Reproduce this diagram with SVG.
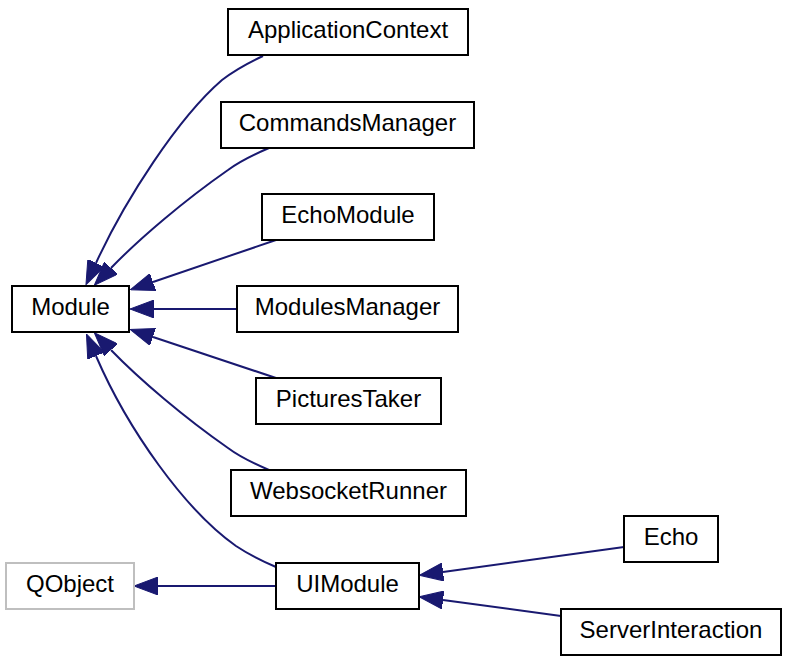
<svg xmlns="http://www.w3.org/2000/svg" width="792" height="660" viewBox="0 0 792 660">
<style>
.n rect{fill:#fff;stroke:#000;stroke-width:2}
.n.g rect{stroke:#bfbfbf}
.n text{font-family:"Liberation Sans",Arial,sans-serif;font-size:24px;text-anchor:middle;fill:#000}
.e path{fill:none;stroke:#191970;stroke-width:2;marker-end:url(#ah)}
</style>
<defs>
<marker id="ah" viewBox="0 0 24 18" markerUnits="userSpaceOnUse" markerWidth="24" markerHeight="18" refX="0" refY="9" orient="auto">
<path d="M0,0 L24,9 L0,18 z" fill="#191970" stroke="#191970" stroke-width="1"/>
</marker>
</defs>
<rect width="792" height="660" fill="#fff"/>
<g id="edges" class="e">
<path d="M263,56 C250,62 235,70 222,80 C178,118 125,200 96,263"/>
<path d="M269,148 C255,154 240,161 228,170 C185,200 140,238 111,268"/>
<path d="M276,240 L153,282"/>
<path d="M237,309 L154,309"/>
<path d="M276,378 L153,337"/>
<path d="M269,470 C255,464 240,457 228,448 C185,418 140,380 111,350"/>
<path d="M276,567 C262,561 248,554 236,546 C185,510 128,430 96,356"/>
<path d="M276,586 L158,586"/>
<path d="M624,547 L443,572"/>
<path d="M561,616 L443,600"/>
</g>
<g id="Module" class="n"><rect x="12" y="286" width="117" height="46"/><text x="70.5" y="315">Module</text></g>
<g id="ApplicationContext" class="n"><rect x="228" y="9" width="240" height="46"/><text x="348" y="38">ApplicationContext</text></g>
<g id="CommandsManager" class="n"><rect x="221" y="102" width="253" height="46"/><text x="347.5" y="131">CommandsManager</text></g>
<g id="EchoModule" class="n"><rect x="262" y="194" width="172" height="46"/><text x="348" y="223">EchoModule</text></g>
<g id="ModulesManager" class="n"><rect x="237" y="286" width="221" height="46"/><text x="347.5" y="315">ModulesManager</text></g>
<g id="PicturesTaker" class="n"><rect x="256" y="378" width="185" height="46"/><text x="348.5" y="407">PicturesTaker</text></g>
<g id="WebsocketRunner" class="n"><rect x="231" y="470" width="235" height="46"/><text x="348.5" y="499">WebsocketRunner</text></g>
<g id="QObject" class="n g"><rect x="6" y="563" width="128" height="46"/><text x="70" y="592">QObject</text></g>
<g id="UIModule" class="n"><rect x="276" y="563" width="143" height="46"/><text x="347.5" y="592">UIModule</text></g>
<g id="Echo" class="n"><rect x="624" y="516" width="94" height="46"/><text x="671" y="545">Echo</text></g>
<g id="ServerInteraction" class="n"><rect x="561" y="609" width="220" height="46"/><text x="671" y="638">ServerInteraction</text></g>
</svg>
